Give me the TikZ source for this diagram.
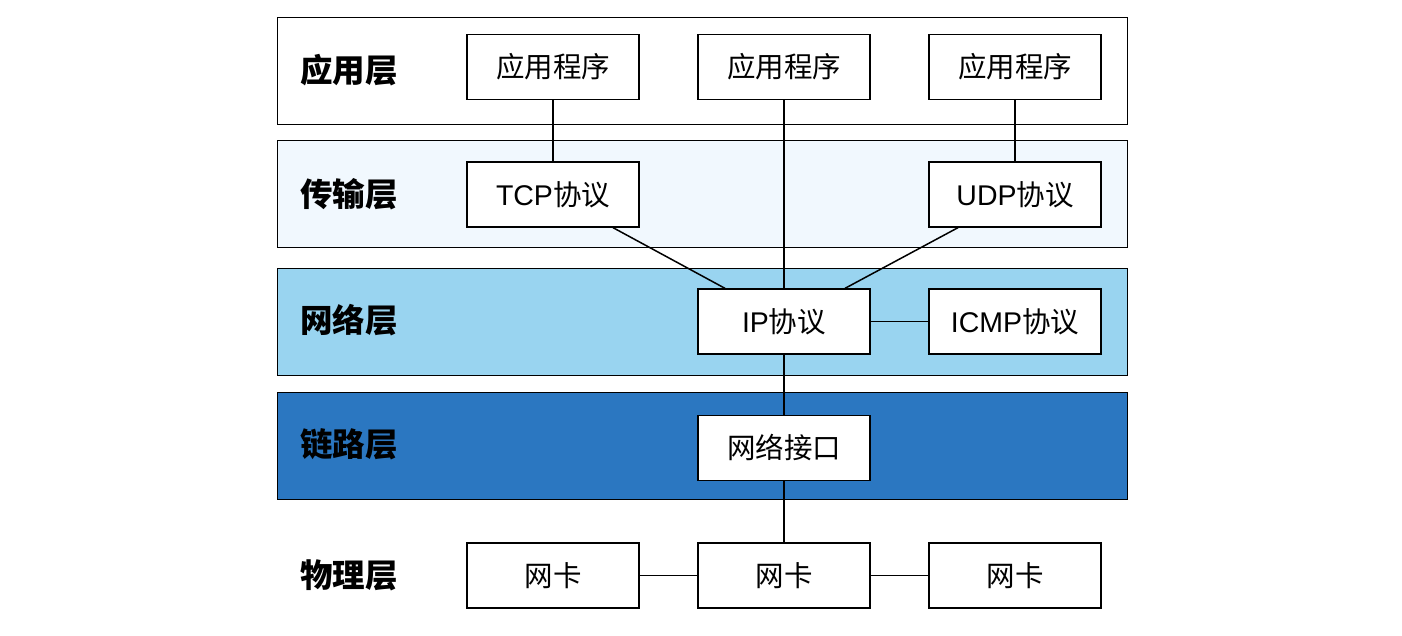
\documentclass[tikz,border=0pt]{standalone}
\usepackage{fontspec}
\setmainfont{Noto Sans CJK SC}
\newfontfamily\lat{Liberation Sans}
\begin{document}
\definecolor{lightL}{HTML}{F1F8FE}
\definecolor{midL}{HTML}{99D4F0}
\definecolor{darkL}{HTML}{2B77C1}
\begin{tikzpicture}[x=1pt,y=-1pt,
  layer/.style={draw=black,line width=1.3pt,minimum width=850pt,minimum height=107pt,anchor=north west,inner sep=0pt},
  lbl/.style={anchor=west,font=\fontsize{32.5}{32.5}\selectfont\bfseries,inner sep=0pt},
  box/.style={draw=black,fill=white,line width=1.3pt,minimum width=172pt,minimum height=65pt,inner sep=0pt,font=\fontsize{28.5}{28.5}\selectfont},
  conn/.style={line width=1.5pt}]
\useasboundingbox (0,0) rectangle (1402,636);
\node[layer] (L1) at (277,17) {};
\node[layer,fill=lightL] (L2) at (277,140) {};
\node[layer,fill=midL] (L3) at (277,268) {};
\node[layer,fill=darkL] (L4) at (277,392) {};
\node[lbl] (t1) at (300,70) {应用层};
\node[lbl] (t2) at (300,194) {传输层};
\node[lbl] (t3) at (300,320) {网络层};
\node[lbl] (t4) at (300,444) {链路层};
\node[lbl] (t5) at (300,575) {物理层};
\node[box] (a1) at (553,67) {应用程序};
\node[box] (a2) at (784,67) {应用程序};
\node[box] (a3) at (1015,67) {应用程序};
\node[box] (tcp) at (553,194.5) {{\lat TCP}协议};
\node[box] (udp) at (1015,194.5) {{\lat UDP}协议};
\node[box] (ip) at (784,321.5) {{\lat IP}协议};
\node[box] (icmp) at (1015,321.5) {{\lat ICMP}协议};
\node[box] (ni) at (784,448) {网络接口};
\node[box] (n1) at (553,575.5) {网卡};
\node[box] (n2) at (784,575.5) {网卡};
\node[box] (n3) at (1015,575.5) {网卡};
\draw[conn] (a1) -- (tcp);
\draw[conn] (a2) -- (ip);
\draw[conn] (a3) -- (udp);
\draw[conn] ([xshift=60pt]tcp.south) -- ([xshift=-59pt]ip.north);
\draw[conn] ([xshift=-57pt]udp.south) -- ([xshift=61pt]ip.north);
\draw[conn] (ip) -- (icmp);
\draw[conn] (ip) -- (ni);
\draw[conn] (ni) -- (n2);
\draw[conn] (n1) -- (n2);
\draw[conn] (n2) -- (n3);
\end{tikzpicture}
\end{document}
